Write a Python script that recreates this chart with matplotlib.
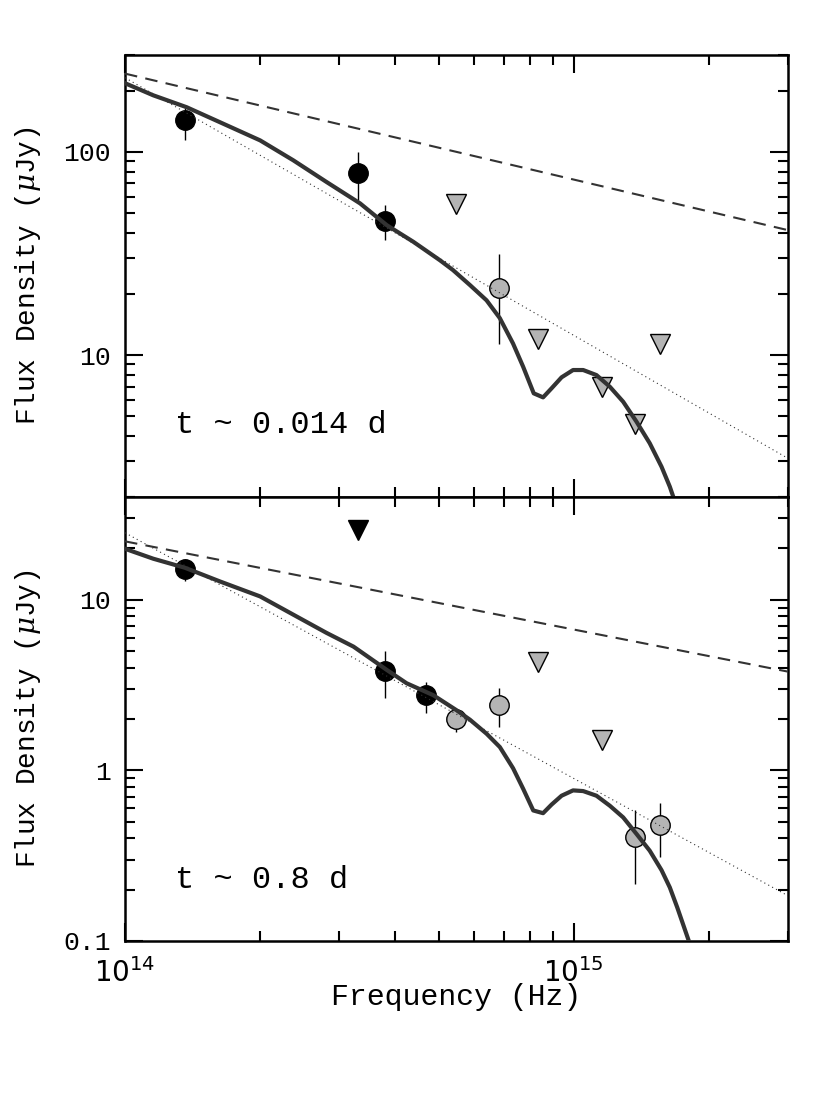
import matplotlib
matplotlib.use("Agg")
import matplotlib.pyplot as plt
from matplotlib.ticker import FixedLocator, FuncFormatter, LogLocator, NullFormatter
import numpy as np

plt.rcParams["mathtext.fontset"] = "dejavuserif"

# ---- early epoch (t ~ 0.014 d) ----
e1_det_nu = [1.36e14, 3.31e14, 3.79e14]
e1_det_f = [143, 78.8, 45.8]
e1_det_lo = [115, 58.3, 36.8]
e1_det_hi = [164, 100, 55.1]
e1_uv_nu = [6.82e14]
e1_uv_f = [21.5]
e1_uv_lo = [11.4]
e1_uv_hi = [31.6]
e1_lim_nu = [5.46e14, 8.34e14, 1.156e15, 1.368e15, 1.556e15]
e1_lim_f = [55.3, 12.0, 6.98, 4.58, 11.4]
e1_model_nu = [1.0e14, 1.156e14, 1.372e14, 1.628e14, 2.0e14, 2.37e14, 2.81e14, 3.34e14,
               3.83e14, 4.39e14, 5.03e14, 5.38e14, 5.87e14, 6.39e14, 6.84e14, 7.32e14,
               7.71e14, 8.14e14, 8.54e14, 8.92e14, 9.39e14, 9.96e14, 1.049e15, 1.123e15,
               1.203e15, 1.288e15, 1.379e15, 1.476e15, 1.568e15, 1.636e15, 1.670e15, 1.70e15]
e1_model_f = [218, 190, 166, 140, 114, 91, 71.2, 55.8,
              43.6, 36.1, 29.3, 26.2, 22.1, 18.6, 15.2, 11.4,
              8.76, 6.48, 6.19, 6.86, 7.77, 8.44, 8.44, 7.97,
              6.98, 5.89, 4.70, 3.68, 2.82, 2.25, 1.97, 1.7]
e1_dash_nu = [1e14, 3e15]
e1_dash_f = [243, 41.2]
e1_dot_nu = [1e14, 3e15]
e1_dot_f = [232, 3.1]

# ---- late epoch (t ~ 0.8 d) ----
e2_det_nu = [1.36e14, 3.79e14, 4.68e14]
e2_det_f = [15.2, 3.84, 2.76]
e2_det_lo = [12.8, 2.64, 2.16]
e2_det_hi = [17.4, 5.04, 3.31]
e2_uv_nu = [5.45e14, 6.82e14, 1.368e15, 1.556e15]
e2_uv_f = [2.01, 2.41, 0.405, 0.481]
e2_uv_lo = [1.68, 1.80, 0.215, 0.312]
e2_uv_hi = [2.25, 3.02, 0.587, 0.646]
e2_lim_nu = [8.34e14, 1.156e15]
e2_lim_f = [4.32, 1.51]
e2_blim_nu = [3.31e14]
e2_blim_f = [25.6]
e2_model_nu = [1.0e14, 1.156e14, 1.36e14, 1.628e14, 2.0e14, 2.45e14, 2.81e14, 3.23e14,
               3.83e14, 4.24e14, 4.86e14, 5.48e14, 5.87e14, 6.39e14, 6.84e14, 7.32e14,
               7.71e14, 8.12e14, 8.54e14, 8.92e14, 9.39e14, 9.96e14, 1.049e15, 1.123e15,
               1.203e15, 1.288e15, 1.379e15, 1.476e15, 1.568e15, 1.636e15, 1.70e15,
               1.806e15, 1.85e15]
e2_model_f = [19.9, 17.4, 15.4, 12.8, 10.46, 7.80, 6.4, 5.31,
              3.88, 3.24, 2.76, 2.25, 1.98, 1.64, 1.37, 1.03,
              0.78, 0.582, 0.561, 0.63, 0.71, 0.763, 0.756, 0.71,
              0.62, 0.53, 0.424, 0.338, 0.26, 0.206, 0.157,
              0.099, 0.08]
e2_dash_nu = [1e14, 3e15]
e2_dash_f = [22.0, 3.79]
e2_dot_nu = [1e14, 3e15]
e2_dot_f = [24.7, 0.184]

GREY = "#b4b4b4"
LINE = "#333333"
MONO = ["Liberation Mono", "DejaVu Sans Mono"]


def panel(ax, det, uv, lim, model, dash, dot, label, label_y, ylim, yticks, blim=None):
    dnu, df, dlo, dhi = det
    unu, uf, ulo, uhi = uv
    ax.errorbar(dnu, df, yerr=[np.subtract(df, dlo), np.subtract(dhi, df)], fmt="o",
                color="black", ms=14, ecolor="black", elinewidth=1, capsize=0, zorder=2)
    ax.errorbar(unu, uf, yerr=[np.subtract(uf, ulo), np.subtract(uhi, uf)], fmt="o",
                mfc=GREY, mec="black", mew=1, ms=14, ecolor="black", elinewidth=1,
                capsize=0, zorder=2)
    ax.plot(lim[0], lim[1], "v", mfc=GREY, mec="black", mew=1, ms=15, ls="none", zorder=2)
    if blim is not None:
        ax.plot(blim[0], blim[1], "v", color="black", ms=15, ls="none", zorder=2)
    ax.plot(dash[0], dash[1], ls=(0, (6, 4)), color=LINE, lw=1.5, zorder=3)
    ax.plot(dot[0], dot[1], ls=(0, (1, 3)), color=LINE, lw=0.8, zorder=3)
    ax.plot(model[0], model[1], color=LINE, lw=3, zorder=4, solid_joinstyle="round")
    ax.set_xscale("log")
    ax.set_yscale("log")
    ax.set_xlim(1e14, 3e15)
    ax.set_ylim(*ylim)
    ax.yaxis.set_major_locator(FixedLocator(yticks))
    ax.yaxis.set_major_formatter(FuncFormatter(lambda v, p: f"{v:g}"))
    ax.yaxis.set_minor_locator(LogLocator(base=10, subs=np.arange(2, 10)))
    ax.yaxis.set_minor_formatter(NullFormatter())
    ax.xaxis.set_minor_locator(LogLocator(base=10, subs=np.arange(2, 10)))
    ax.xaxis.set_minor_formatter(NullFormatter())
    ax.tick_params(which="both", direction="in", top=True, right=True, width=1.5)
    ax.tick_params(which="major", length=13)
    ax.tick_params(which="minor", length=7)
    ax.tick_params(axis="y", labelsize=19, pad=10)
    ax.tick_params(axis="x", labelsize=20, pad=12)
    for s in ax.spines.values():
        s.set_linewidth(1.8)
    ax.set_ylabel(r"Flux Density ($\mu$Jy)", fontsize=20, family=MONO)
    ax.yaxis.set_label_coords(-0.124, 0.5)
    ax.text(0.075, label_y, label, transform=ax.transAxes, fontsize=23, family=MONO,
            va="center", ha="left")
    for t in ax.get_yticklabels():
        t.set_family(MONO)


fig = plt.figure(figsize=(8.3, 11.07), dpi=100)
ax1 = fig.add_axes([0.1506, 0.551, 0.7988, 0.3993])
ax2 = fig.add_axes([0.1506, 0.15, 0.7988, 0.401])

panel(ax1, (e1_det_nu, e1_det_f, e1_det_lo, e1_det_hi), (e1_uv_nu, e1_uv_f, e1_uv_lo, e1_uv_hi),
      (e1_lim_nu, e1_lim_f), (e1_model_nu, e1_model_f), (e1_dash_nu, e1_dash_f),
      (e1_dot_nu, e1_dot_f), "t ~ 0.014 d", 0.163, (2, 300), [10, 100])
panel(ax2, (e2_det_nu, e2_det_f, e2_det_lo, e2_det_hi), (e2_uv_nu, e2_uv_f, e2_uv_lo, e2_uv_hi),
      (e2_lim_nu, e2_lim_f), (e2_model_nu, e2_model_f), (e2_dash_nu, e2_dash_f),
      (e2_dot_nu, e2_dot_f), "t ~ 0.8 d", 0.137, (0.1, 40), [0.1, 1, 10],
      blim=(e2_blim_nu, e2_blim_f))

ax1.tick_params(labelbottom=False)
ax2.set_xlabel("Frequency (Hz)", fontsize=21.5, family=MONO)
ax2.xaxis.set_label_coords(0.5, -0.095)

fig.savefig("out.png", dpi=100)
